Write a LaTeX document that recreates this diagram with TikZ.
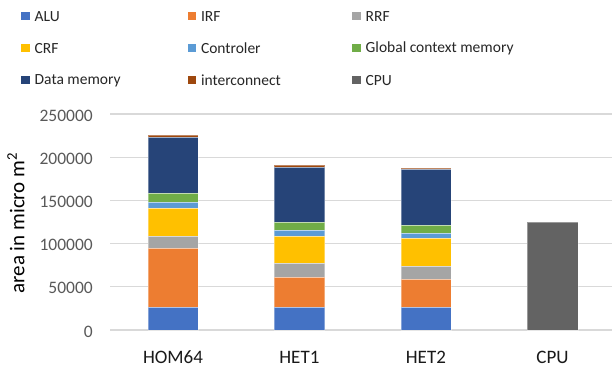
\documentclass[tikz,border=0pt]{standalone}
\usepackage{fontspec}
\setmainfont{Carlito}
\begin{document}
\begin{tikzpicture}[x=1pt,y=-1pt,
  seg/.style={fill=#1,draw=white,draw opacity=0.35,line width=0.4pt},
  grid/.style={draw=gray!30,line width=1.1pt},
  tick/.style={anchor=east,text=black!65,font=\fontsize{17.5}{20}\selectfont,inner sep=0pt},
  cat/.style={anchor=center,text=black!90,font=\fontsize{19}{22}\selectfont,inner sep=0pt},
  legsq/.style={fill=#1,minimum size=8.5pt,inner sep=0pt,draw=none},
  legtx/.style={anchor=west,inner sep=0pt,font=\fontsize{15.5}{18}\selectfont,text=black!85}]
\definecolor{cALU}{HTML}{4472C4}
\definecolor{cIRF}{HTML}{ED7D31}
\definecolor{cRRF}{HTML}{A5A5A5}
\definecolor{cCRF}{HTML}{FFC000}
\definecolor{cCTL}{HTML}{5B9BD5}
\definecolor{cGCM}{HTML}{70AD47}
\definecolor{cDM}{HTML}{264478}
\definecolor{cIC}{HTML}{9E480E}
\definecolor{cCPU}{HTML}{636363}
\useasboundingbox[fill=white] (0,0) rectangle (613,370);
% gridlines
\foreach \v/\y in {250000/114,200000/157.2,150000/200.4,100000/243.6,50000/286.8,0/330}{
  \draw[grid] (110,\y) -- (612,\y);
  \node[tick] (t\v) at (93,\y+1.5) {\v};
}
% axis title
\node[rotate=90,anchor=center,inner sep=0pt,font=\fontsize{21}{24}\selectfont] (ytitle) at (16,223) {area in micro m\textsuperscript{2}};
% bars: \x0 \x1 then boundaries
\foreach \n/\xa/\xb/\ya/\yb/\yc/\yd/\ye/\yf/\yg/\yh in {
  hom/147.7/198.3/306.7/248.3/235.7/208.3/201.7/193.3/137/135,
  heta/274.3/324.6/306.7/276.7/262.7/235.7/230.3/222/167/165,
  hetb/400.7/451/306.7/279.3/265.7/238.3/233/225/169.3/167.7}{
  \path[seg=cALU] (\xa,330) rectangle (\xb,\ya);
  \path[seg=cIRF] (\xa,\ya) rectangle (\xb,\yb);
  \path[seg=cRRF] (\xa,\yb) rectangle (\xb,\yc);
  \path[seg=cCRF] (\xa,\yc) rectangle (\xb,\yd);
  \path[seg=cCTL] (\xa,\yd) rectangle (\xb,\ye);
  \path[seg=cGCM] (\xa,\ye) rectangle (\xb,\yf);
  \path[seg=cDM] (\xa,\yf) rectangle (\xb,\yg);
  \path[seg=cIC] (\xa,\yg) rectangle (\xb,\yh);
}
\path[seg=cCPU] (527,330) rectangle (578,222);
% categories
\node[cat] (c1) at (173,357.5) {HOM64};
\node[cat] (c2) at (299.4,357.5) {HET1};
\node[cat] (c3) at (425.9,357.5) {HET2};
\node[cat] (c4) at (552.5,357.5) {CPU};
% legend
\foreach \c/\lab/\x/\y [count=\i] in {
  cALU/ALU/25.5/16, cIRF/IRF/191.8/16, cRRF/RRF/356.5/16,
  cCRF/CRF/25.5/48, cCTL/Controler/191.8/48, cGCM/Global context memory/356.5/48,
  cDM/Data memory/25.5/80, cIC/interconnect/191.8/80, cCPU/CPU/356.5/80}{
  \node[legsq=\c] (lq\i) at (\x,\y) {};
  \node[legtx] (lt\i) at (\x+9,\y+0.5) {\lab};
}
\end{tikzpicture}
\end{document}
